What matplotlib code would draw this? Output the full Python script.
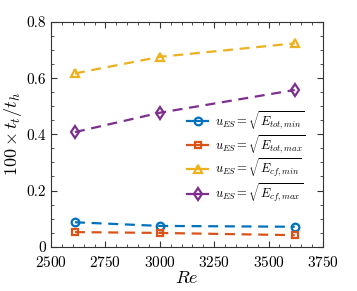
import matplotlib
matplotlib.use("Agg")
import matplotlib.pyplot as plt
from matplotlib.ticker import MultipleLocator

plt.rcParams['font.family'] = 'cmr10'
plt.rcParams['mathtext.fontset'] = 'cm'
plt.rcParams['axes.formatter.use_mathtext'] = True

# data
Re = [2610, 3000, 3620]
tot_min = [0.087, 0.074, 0.071]
tot_max = [0.052, 0.049, 0.041]
cf_min = [0.617, 0.676, 0.724]
cf_max = [0.408, 0.477, 0.558]

fig = plt.figure(figsize=(3.57, 2.91), dpi=100)
ax = fig.add_axes([51/357, 1-246.7/291, 272/357, 224.7/291])

dash = (0, (4.5, 3))
ax.plot(Re, tot_min, marker='o', ls=dash, color='#0072BD', mfc='none', lw=1.6, ms=5.5, mew=1.6,
        label=r'$u_{ES}=\sqrt{E_{tot,min}}$')
ax.plot(Re, tot_max, marker='s', ls=dash, color='#D95319', mfc='none', lw=1.6, ms=5, mew=1.6,
        label=r'$u_{ES}=\sqrt{E_{tot,max}}$')
ax.plot(Re, cf_min, marker='^', ls=dash, color='#EDB120', mfc='none', lw=1.6, ms=6, mew=1.6,
        label=r'$u_{ES}=\sqrt{E_{cf,min}}$')
ax.plot(Re, cf_max, marker='d', ls=dash, color='#7E2F8E', mfc='none', lw=1.6, ms=6, mew=1.6,
        label=r'$u_{ES}=\sqrt{E_{cf,max}}$')

ax.set_xlim(2500, 3750)
ax.set_ylim(0, 0.8)
ax.set_xticks([2500, 2750, 3000, 3250, 3500, 3750])
ax.set_yticks([0, 0.2, 0.4, 0.6, 0.8])
ax.set_yticklabels(['0', '0.2', '0.4', '0.6', '0.8'])
ax.xaxis.set_minor_locator(MultipleLocator(50))
ax.yaxis.set_minor_locator(MultipleLocator(0.05))
ax.tick_params(which='both', direction='in', top=True, right=True, labelsize=11, color='#333333')
ax.tick_params(which='major', length=4)
ax.tick_params(which='minor', length=2)
ax.tick_params(axis='x', pad=6)
for s in ax.spines.values():
    s.set_color('#333333')
    s.set_linewidth(0.8)

ax.set_xlabel(r'$Re$', fontsize=13, labelpad=0)
ax.set_ylabel(r'$100\times t_t/t_h$', fontsize=13, labelpad=2)

leg = ax.legend(loc='center left', bbox_to_anchor=(0.5, 0.40), frameon=False, fontsize=9,
                borderpad=0, borderaxespad=0, handlelength=1.7, handletextpad=0.55,
                labelspacing=0.1)
for h in leg.get_lines():
    h.set_linestyle('-')

fig.savefig('out.png', dpi=100)
